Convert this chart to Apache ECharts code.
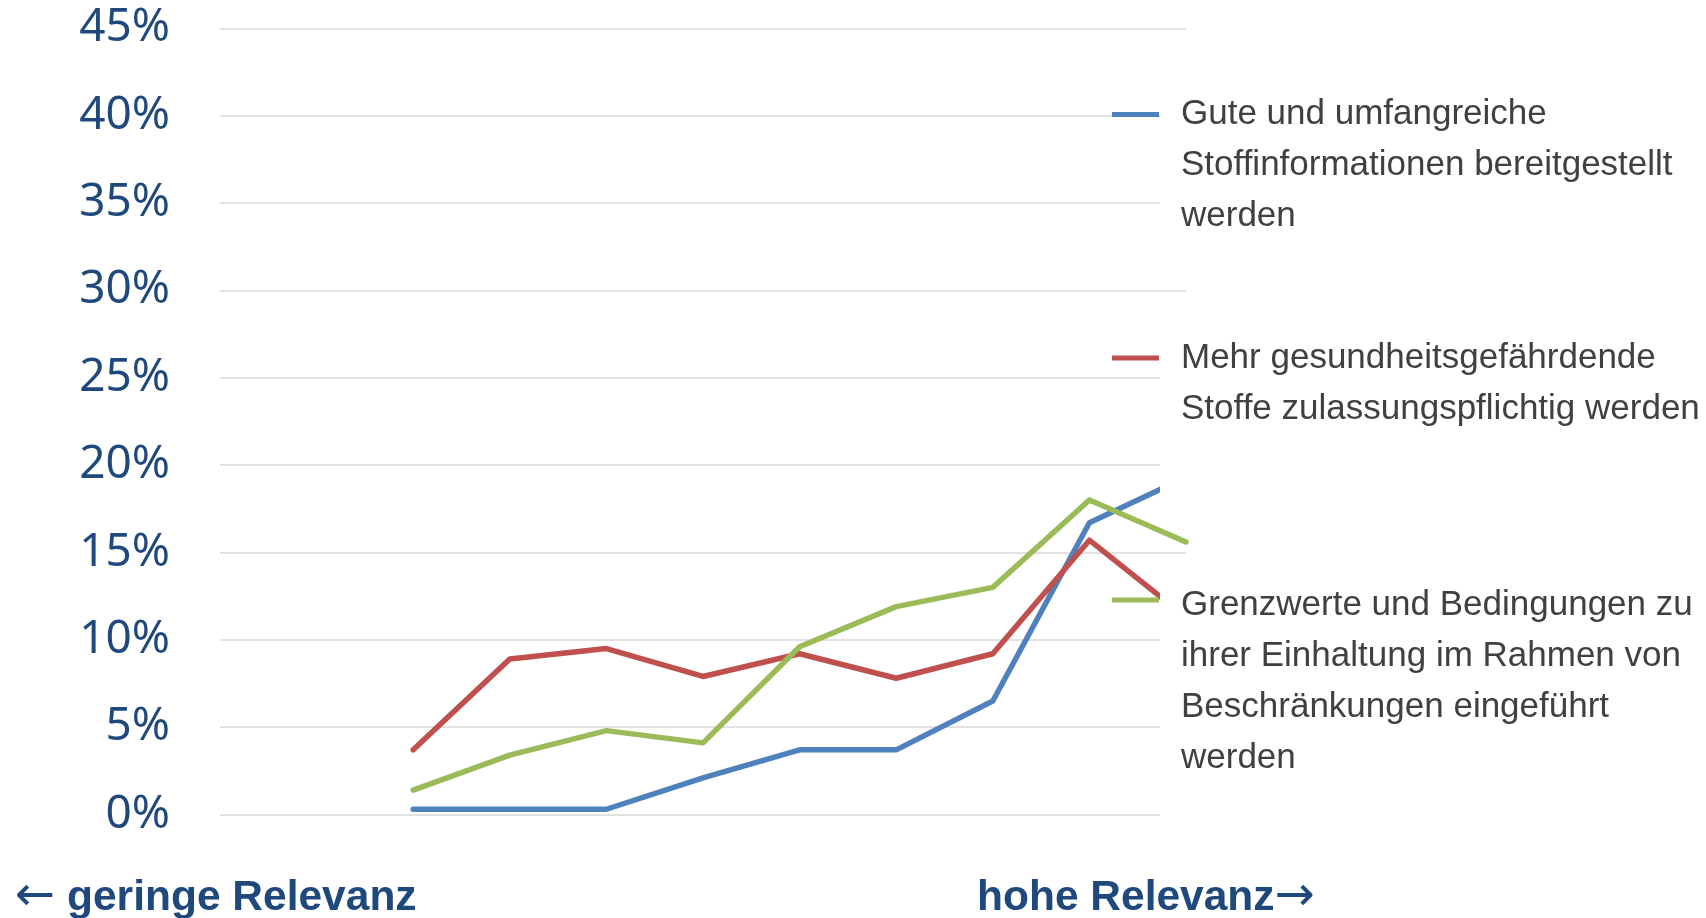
<!DOCTYPE html>
<html>
<head>
<meta charset="utf-8">
<title>Relevanz</title>
<script src="https://cdn.jsdelivr.net/npm/echarts@6/dist/echarts.min.js"></script>
<style>
  html, body { margin: 0; padding: 0; background: #fff; }
  #chart { width: 1706px; height: 918px; }
</style>
</head>
<body>
<div id="chart"></div>
<script>
// relevance scale 0..10, values in percent
var categories = ["0", "1", "2", "3", "4", "5", "6", "7", "8", "9", "10"];
var seriesNames = [
  "Gute und umfangreiche Stoffinformationen bereitgestellt werden",
  "Mehr gesundheitsgefährdende Stoffe zulassungspflichtig werden",
  "Grenzwerte und Bedingungen zu ihrer Einhaltung im Rahmen von Beschränkungen eingeführt werden"
];
var legendLines = [
  ["Gute und umfangreiche", "Stoffinformationen bereitgestellt", "werden"],
  ["Mehr gesundheitsgefährdende", "Stoffe zulassungspflichtig werden"],
  ["Grenzwerte und Bedingungen zu", "ihrer Einhaltung im Rahmen von", "Beschränkungen eingeführt", "werden"]
];
var stoffinfo = [null, null, 0.3, 0.3, 0.3, 2.1, 3.7, 3.7, 6.5, 16.7, 19.3];
var zulassung = [null, null, 3.7, 8.9, 9.5, 7.9, 9.2, 7.8, 9.2, 15.7, 11.3];
var grenzwerte = [null, null, 1.4, 3.4, 4.8, 4.1, 9.6, 11.9, 13.0, 18.0, 15.6];
var yTicks = { min: 0, max: 45, step: 5 };

var colors = ["#4F81BD", "#C0504D", "#9BBB59"];
var seriesData = [stoffinfo, zulassung, grenzwerte];
var LINE_H = 51;
var legendTops = [89, 332.5, 579.5];
var iconCenters = [25.5, 25.5, 20.5];

// line marker sits on the first text line, not in the middle of the block
function legendIcon(lines, c) {
  var h = lines * LINE_H;
  return "path://M0," + (c - 2.5) + "h47v5h-47z M0,0h0.01v0.01h-0.01z M63.99," + (h - 0.01) + "h0.01v0.01h-0.01z";
}

var bottomStyle = {
  fontFamily: "Liberation Sans, Arial",
  fontSize: 42.5,
  fontWeight: "bold",
  color: "#1F497D",
  lineHeight: 44,
  rich: {
    arr: { fontFamily: "DejaVu Sans", fontWeight: "normal", fontSize: 48, color: "#1F497D", lineHeight: 44 }
  }
};

var chart = echarts.init(document.getElementById("chart"));

chart.setOption({
  animation: false,
  color: colors,
  grid: { left: 220, right: 520, top: 28.3, bottom: 103.5 },
  title: [
    { text: "{arr|←} geringe Relevanz", left: 15, top: 876, padding: 0, textStyle: bottomStyle },
    { text: "hohe Relevanz{arr|→}", left: 977, top: 876, padding: 0, textStyle: bottomStyle }
  ],
  legend: seriesNames.map(function (name, i) {
    return {
      data: [name],
      left: 1112,
      top: legendTops[i],
      padding: 0,
      orient: "vertical",
      selectedMode: false,
      icon: legendIcon(legendLines[i].length, iconCenters[i]),
      itemWidth: 64,
      itemHeight: legendLines[i].length * LINE_H,
      itemStyle: { borderWidth: 0 },
      formatter: function () { return legendLines[i].join("\n"); },
      textStyle: { fontFamily: "Liberation Sans, Arial", fontSize: 35, lineHeight: LINE_H, color: "#404040" },
      z: 20
    };
  }),
  // white panels behind the legend texts, as in the original
  graphic: [
    { type: "rect", z: 10, shape: { x: 1160, y: 86, width: 546, height: 162 }, style: { fill: "#fff" } },
    { type: "rect", z: 10, shape: { x: 1160, y: 305, width: 546, height: 205 }, style: { fill: "#fff" } },
    { type: "rect", z: 10, shape: { x: 1160, y: 568, width: 546, height: 262 }, style: { fill: "#fff" } }
  ],
  xAxis: {
    type: "category",
    data: categories,
    boundaryGap: false,
    axisLine: { show: false },
    axisTick: { show: false },
    axisLabel: { show: false },
    splitLine: { show: false }
  },
  yAxis: {
    type: "value",
    min: yTicks.min,
    max: yTicks.max,
    interval: yTicks.step,
    axisLine: { show: false },
    axisTick: { show: false },
    axisLabel: {
      formatter: "{value}%",
      margin: 50,
      fontFamily: "Noto Sans",
      fontSize: 46,
      color: "#1F497D",
      padding: [9, 0, 0, 0]
    },
    splitLine: { lineStyle: { color: "#D9D9D9", width: 1.5 } }
  },
  series: seriesNames.map(function (name, i) {
    return {
      type: "line",
      name: name,
      data: seriesData[i],
      symbol: "none",
      lineStyle: { width: 5.5, color: colors[i], cap: "round", join: "round" },
      itemStyle: { color: colors[i] }
    };
  })
});
</script>
</body>
</html>
